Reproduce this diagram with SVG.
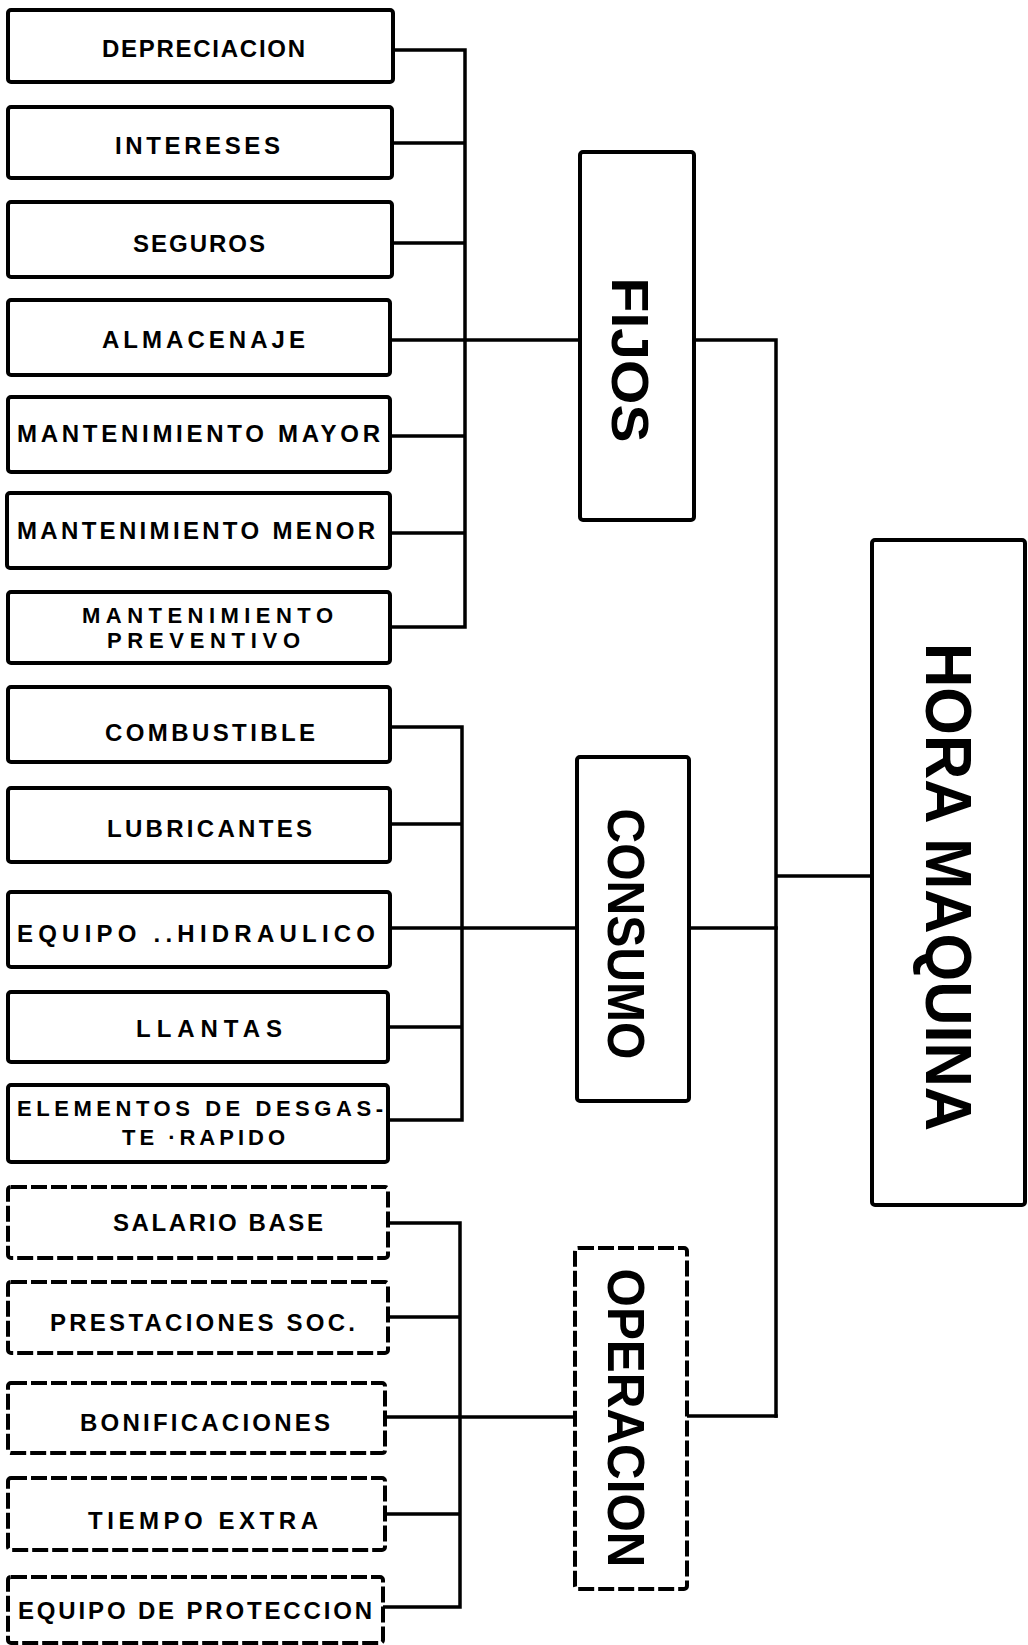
<svg xmlns="http://www.w3.org/2000/svg" width="1028" height="1645" viewBox="0 0 1028 1645">
<style>
  .box { fill: #ffffff; stroke: #000000; stroke-width: 4; }
  .dash { stroke-dasharray: 16 4; }
  .lbl { font-family: "Liberation Sans", Arial, sans-serif; font-size: 24px; font-weight: bold; fill: #000000; }
  .lbl2 { font-family: "Liberation Sans", Arial, sans-serif; font-size: 22px; font-weight: bold; fill: #000000; }
  .big { font-family: "Liberation Sans", Arial, sans-serif; font-size: 52px; font-weight: bold; fill: #000000; text-anchor: middle; }
  .huge { font-family: "Liberation Sans", Arial, sans-serif; font-size: 64px; font-weight: bold; fill: #000000; text-anchor: middle; }
  .conn { fill: none; stroke: #000000; stroke-width: 3.5; stroke-linecap: square; }
</style>
<rect x="0" y="0" width="1028" height="1645" fill="#ffffff"/>

<g id="connectors">
  <path class="conn" d="M393 50 H465 M392 143 H465 M392 243 H465 M390 340 H465 M390 436 H465 M390 533 H465 M390 627 H465 M465 50 V627 M465 340 H580"/>
  <path class="conn" d="M694 340 H776 V1416 M776 876 H872"/>
  <path class="conn" d="M390 727 H462 M390 824 H462 M390 928 H462 M388 1027 H462 M388 1120 H462 M462 727 V1120 M462 928 H577 M689 928 H776"/>
  <path class="conn" d="M388 1223 H460 M388 1317 H460 M385 1417 H460 M385 1514 H460 M383 1607 H460 M460 1223 V1607 M460 1417 H575 M687 1416 H776"/>
</g>

<g id="n-depreciacion"><rect class="box" x="8" y="10" width="385" height="72" rx="3"/><text class="lbl" x="102" y="57" textLength="203" lengthAdjust="spacing">DEPRECIACION</text></g>
<g id="n-intereses"><rect class="box" x="8" y="107" width="384" height="71" rx="3"/><text class="lbl" x="115" y="154" textLength="165" lengthAdjust="spacing">INTERESES</text></g>
<g id="n-seguros"><rect class="box" x="8" y="202" width="384" height="75" rx="3"/><text class="lbl" x="133" y="252" textLength="132" lengthAdjust="spacing">SEGUROS</text></g>
<g id="n-almacenaje"><rect class="box" x="8" y="300" width="382" height="75" rx="3"/><text class="lbl" x="102" y="348" textLength="203" lengthAdjust="spacing">ALMACENAJE</text></g>
<g id="n-mant-mayor"><rect class="box" x="8" y="397" width="382" height="75" rx="3"/><text class="lbl" x="17" y="442" textLength="363" lengthAdjust="spacing">MANTENIMIENTO  MAYOR</text></g>
<g id="n-mant-menor"><rect class="box" x="7" y="493" width="383" height="75" rx="3"/><text class="lbl" x="17" y="539" textLength="358" lengthAdjust="spacing">MANTENIMIENTO  MENOR</text></g>
<g id="n-mant-prev"><rect class="box" x="8" y="592" width="382" height="71" rx="3"/><text class="lbl2" x="82" y="623" textLength="251" lengthAdjust="spacing">MANTENIMIENTO</text><text class="lbl2" x="107" y="648" textLength="193" lengthAdjust="spacing">PREVENTIVO</text></g>

<g id="n-combustible"><rect class="box" x="8" y="687" width="382" height="75" rx="3"/><text class="lbl" x="105" y="741" textLength="210" lengthAdjust="spacing">COMBUSTIBLE</text></g>
<g id="n-lubricantes"><rect class="box" x="8" y="788" width="382" height="74" rx="3"/><text class="lbl" x="107" y="837" textLength="205" lengthAdjust="spacing">LUBRICANTES</text></g>
<g id="n-equipo-hidraulico"><rect class="box" x="8" y="892" width="382" height="75" rx="3"/><text class="lbl" x="17" y="942" textLength="358" lengthAdjust="spacing">EQUIPO ..HIDRAULICO</text></g>
<g id="n-llantas"><rect class="box" x="8" y="992" width="380" height="70" rx="3"/><text class="lbl" x="136" y="1037" textLength="146" lengthAdjust="spacing">LLANTAS</text></g>
<g id="n-elementos"><rect class="box" x="8" y="1085" width="380" height="77" rx="3"/><text class="lbl2" x="17" y="1116" textLength="366" lengthAdjust="spacing">ELEMENTOS DE DESGAS-</text><text class="lbl2" x="122" y="1145" textLength="163" lengthAdjust="spacing">TE ·RAPIDO</text></g>

<g id="n-salario"><rect class="box dash" x="8" y="1187" width="380" height="71" rx="3"/><text class="lbl" x="113" y="1231" textLength="210" lengthAdjust="spacing">SALARIO BASE</text></g>
<g id="n-prestaciones"><rect class="box dash" x="8" y="1282" width="380" height="71" rx="3"/><text class="lbl" x="50" y="1331" textLength="305" lengthAdjust="spacing">PRESTACIONES SOC.</text></g>
<g id="n-bonificaciones"><rect class="box dash" x="8" y="1383" width="377" height="70" rx="3"/><text class="lbl" x="80" y="1431" textLength="250" lengthAdjust="spacing">BONIFICACIONES</text></g>
<g id="n-tiempo-extra"><rect class="box dash" x="8" y="1478" width="377" height="72" rx="3"/><text class="lbl" x="88" y="1529" textLength="230" lengthAdjust="spacing">TIEMPO EXTRA</text></g>
<g id="n-equipo-proteccion"><rect class="box dash" x="8" y="1577" width="375" height="66" rx="3"/><text class="lbl" x="18" y="1619" textLength="354" lengthAdjust="spacing">EQUIPO DE PROTECCION</text></g>

<g id="n-fijos"><rect class="box" x="580" y="152" width="114" height="368" rx="3"/><text class="big" transform="translate(630,360) rotate(90)" y="18" textLength="165" lengthAdjust="spacingAndGlyphs">FIJOS</text></g>
<g id="n-consumo"><rect class="box" x="577" y="757" width="112" height="344" rx="3"/><text class="big" transform="translate(626,934) rotate(90)" y="18" textLength="251" lengthAdjust="spacingAndGlyphs">CONSUMO</text></g>
<g id="n-operacion"><rect class="box dash" x="575" y="1248" width="112" height="341" rx="3"/><text class="big" transform="translate(626,1418) rotate(90)" y="18" textLength="299" lengthAdjust="spacingAndGlyphs">OPERACION</text></g>
<g id="n-hora-maquina"><rect class="box" x="872" y="540" width="153" height="665" rx="3"/><text class="huge" transform="translate(949,887) rotate(90)" y="23" textLength="488" lengthAdjust="spacingAndGlyphs">HORA MAQUINA</text></g>
</svg>
